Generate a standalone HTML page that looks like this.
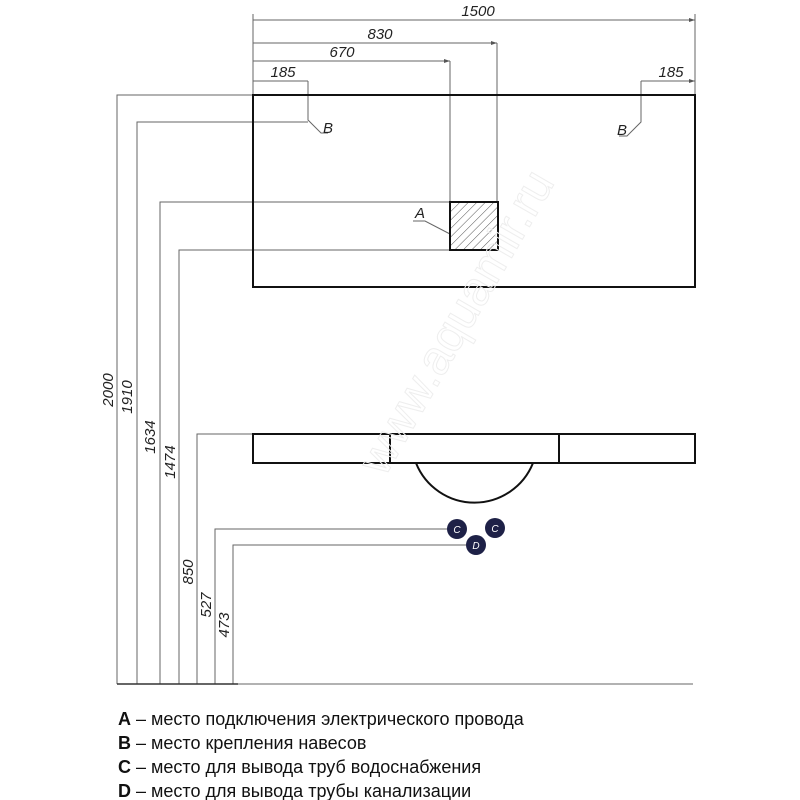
<!DOCTYPE html>
<html><head><meta charset="utf-8"><style>
html,body{margin:0;padding:0;background:#fff;width:800px;height:800px;overflow:hidden}
svg text{font-family:"Liberation Sans",sans-serif}
.d{font-style:italic;font-size:15px;fill:#222}
.lg{font-family:"Liberation Sans","DejaVu Sans",sans-serif;font-size:18px;fill:#111}
</style></head><body>
<svg width="800" height="800" viewBox="0 0 800 800" xmlns="http://www.w3.org/2000/svg">
<defs><marker id="a" markerWidth="6" markerHeight="4" refX="6" refY="2" orient="auto"><path d="M0,0 L6,2 L0,4z" fill="#555"/></marker></defs>
<g stroke="#666" stroke-width="1" fill="none">
<line x1="253" y1="14" x2="253" y2="95"/>
<line x1="695" y1="14" x2="695" y2="95"/>
<line x1="253" y1="20" x2="695" y2="20" marker-end="url(#a)"/>
<line x1="253" y1="43" x2="497" y2="43" marker-end="url(#a)"/>
<line x1="497" y1="43" x2="497" y2="202"/>
<line x1="253" y1="61" x2="450" y2="61" marker-end="url(#a)"/>
<line x1="450" y1="61" x2="450" y2="202"/>
<line x1="253" y1="81" x2="308" y2="81"/>
<polyline points="308,81 308,120 321,133 328,133"/>
<line x1="641" y1="81" x2="695" y2="81" marker-end="url(#a)"/>
<polyline points="641,81 641,122 627,136 619,136"/>
<polyline points="413,221 425,221 450,234"/>
<polyline points="253,95 117,95 117,684"/>
<polyline points="308,122 137,122 137,684"/>
<polyline points="450,202 160,202 160,684"/>
<polyline points="450,250 179,250 179,684"/>
<polyline points="253,434 197,434 197,684"/>
<polyline points="448,529 215,529 215,684"/>
<polyline points="466,545 233,545 233,684"/>
<line x1="117" y1="684" x2="693" y2="684"/>
<line x1="117" y1="684" x2="238" y2="684" stroke="#333" stroke-width="1.5"/>
</g>
<g stroke="#111" stroke-width="2" fill="none">
<rect x="253" y="95" width="442" height="192"/>
<rect x="253" y="434" width="442" height="29"/>
<line x1="390" y1="434" x2="390" y2="463"/>
<line x1="559" y1="434" x2="559" y2="463"/>
<path d="M416,463 A63,63 0 0 0 533,463"/>
</g>
<defs><pattern id="h" width="6" height="6" patternUnits="userSpaceOnUse" patternTransform="rotate(45)"><line x1="0" y1="0" x2="0" y2="6" stroke="#555" stroke-width="1"/></pattern></defs>
<rect x="450" y="202" width="48" height="48" fill="url(#h)" stroke="#111" stroke-width="2"/>
<g fill="#1e2147">
<circle cx="457" cy="529" r="10"/><circle cx="495" cy="528" r="10"/><circle cx="476" cy="545" r="10"/>
</g>
<g fill="#fff" font-size="10" font-style="italic" text-anchor="middle">
<text x="457" y="533">C</text><text x="495" y="532">C</text><text x="476" y="549">D</text>
</g>
<g class="d" text-anchor="middle">
<text x="478" y="16">1500</text>
<text x="380" y="39">830</text>
<text x="342" y="57">670</text>
<text x="283" y="77">185</text>
<text x="671" y="77">185</text>
<text x="328" y="133">B</text>
<text x="622" y="135">B</text>
<text x="420" y="218">A</text>
<text transform="translate(113,390) rotate(-90)">2000</text>
<text transform="translate(132,397) rotate(-90)">1910</text>
<text transform="translate(155,437) rotate(-90)">1634</text>
<text transform="translate(175,462) rotate(-90)">1474</text>
<text transform="translate(193,572) rotate(-90)">850</text>
<text transform="translate(211,605) rotate(-90)">527</text>
<text transform="translate(229,625) rotate(-90)">473</text>
</g>
<text x="0" y="0" transform="translate(470,330) rotate(-60)" font-size="48" fill="none" stroke="#eee" stroke-width="1" text-anchor="middle">www.aquamir.ru</text>
<g class="lg">
<text x="118" y="725"><tspan font-weight="bold">A</tspan> – место подключения электрического провода</text>
<text x="118" y="749"><tspan font-weight="bold">B</tspan> – место крепления навесов</text>
<text x="118" y="773"><tspan font-weight="bold">C</tspan> – место для вывода труб водоснабжения</text>
<text x="118" y="797"><tspan font-weight="bold">D</tspan> – место для вывода трубы канализации</text>
</g>
</svg>
</body></html>
